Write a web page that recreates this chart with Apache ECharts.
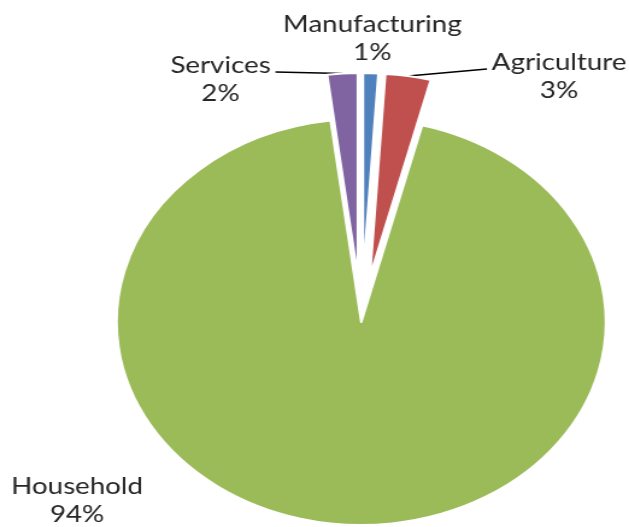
<!DOCTYPE html>
<html>
<head>
<meta charset="utf-8">
<script src="https://cdn.jsdelivr.net/npm/echarts@6/dist/echarts.min.js"></script>
<style>
  html, body { margin: 0; padding: 0; background: #fff; overflow: hidden; }
  #wrap { width: 629px; height: 527px; overflow: hidden; }
  /* the whole chart is drawn horizontally stretched */
  #chart { width: 522px; height: 527px; transform: scaleX(1.205); transform-origin: 0 0; }
</style>
</head>
<body>
<div id="wrap"><div id="chart"></div></div>
<script>
// Share of use by sector (%), clockwise from 12 o'clock
const categories = ['Manufacturing', 'Agriculture', 'Household', 'Services'];
const shares = [1, 3, 94, 2];
const colors = ['#4F81BD', '#C0504D', '#9BBB59', '#8064A2'];

// layout (unstretched chart pixels)
const CENTER = [299.8, 322];
const RADIUS = 203;
const explode = { Manufacturing: 46, Agriculture: 46, Services: 46, Household: 0 };
const labelAnchor = {
  Manufacturing: [309, 39],
  Agriculture: [464, 77],
  Services: [183, 80],
  Household: [64, 501]
};
// which side of the label a leader line leaves from
const leaderSide = { Services: 'right', Agriculture: 'left' };

const FONT = 'Lato, "Open Sans", sans-serif';
const FONT_SIZE = 23;
const LINE_H = 28;

const total = shares.reduce((a, b) => a + b, 0);

// mid angle of each slice, radians clockwise from 12 o'clock
const midAngle = shares.map((v, i) => {
  const before = shares.slice(0, i).reduce((a, b) => a + b, 0);
  return (before + v / 2) / total * Math.PI * 2;
});

// pulled-out centre for each slice
function sliceCenter(i) {
  const d = explode[categories[i]];
  return [CENTER[0] + d * Math.sin(midAngle[i]), CENTER[1] - d * Math.cos(midAngle[i])];
}

function placeLabel(params) {
  const name = categories[params.dataIndex];
  const a = labelAnchor[name];
  const out = { x: a[0], y: a[1], align: 'center', verticalAlign: 'middle' };
  const side = leaderSide[name];
  if (side) {
    const c = sliceCenter(params.dataIndex);
    const t = midAngle[params.dataIndex];
    const edge = [c[0] + RADIUS * Math.sin(t), c[1] - RADIUS * Math.cos(t)];
    const half = params.labelRect.width / 2 + 4;
    const end = [side === 'right' ? a[0] + half : a[0] - half, a[1] - 8];
    out.labelLinePoints = [edge, [(edge[0] + end[0]) / 2, (edge[1] + end[1]) / 2], end];
  }
  return out;
}

const chart = echarts.init(document.getElementById('chart'), null, { renderer: 'canvas' });

const series = categories.map((name, k) => ({
  name: name,
  type: 'pie',
  center: sliceCenter(k),
  radius: RADIUS,
  startAngle: 90,
  clockwise: true,
  silent: true,
  emphasis: { disabled: true },
  label: {
    formatter: '{b}\n{d}%',
    color: '#262626',
    fontFamily: FONT,
    fontSize: FONT_SIZE,
    lineHeight: LINE_H,
    overflow: 'none'
  },
  labelLine: { lineStyle: { color: '#000', width: 1.6 } },
  labelLayout: placeLabel,
  data: categories.map((c, i) => {
    const own = i === k;
    return {
      name: c,
      value: shares[i],
      itemStyle: own
        ? { color: colors[i], borderColor: '#fff', borderWidth: 2 }
        : { color: 'rgba(0,0,0,0)', borderWidth: 0 },
      label: { show: own },
      labelLine: { show: own && !!leaderSide[c] }
    };
  })
}));

chart.setOption({
  animation: false,
  backgroundColor: '#fff',
  series: series
});
</script>
</body>
</html>
